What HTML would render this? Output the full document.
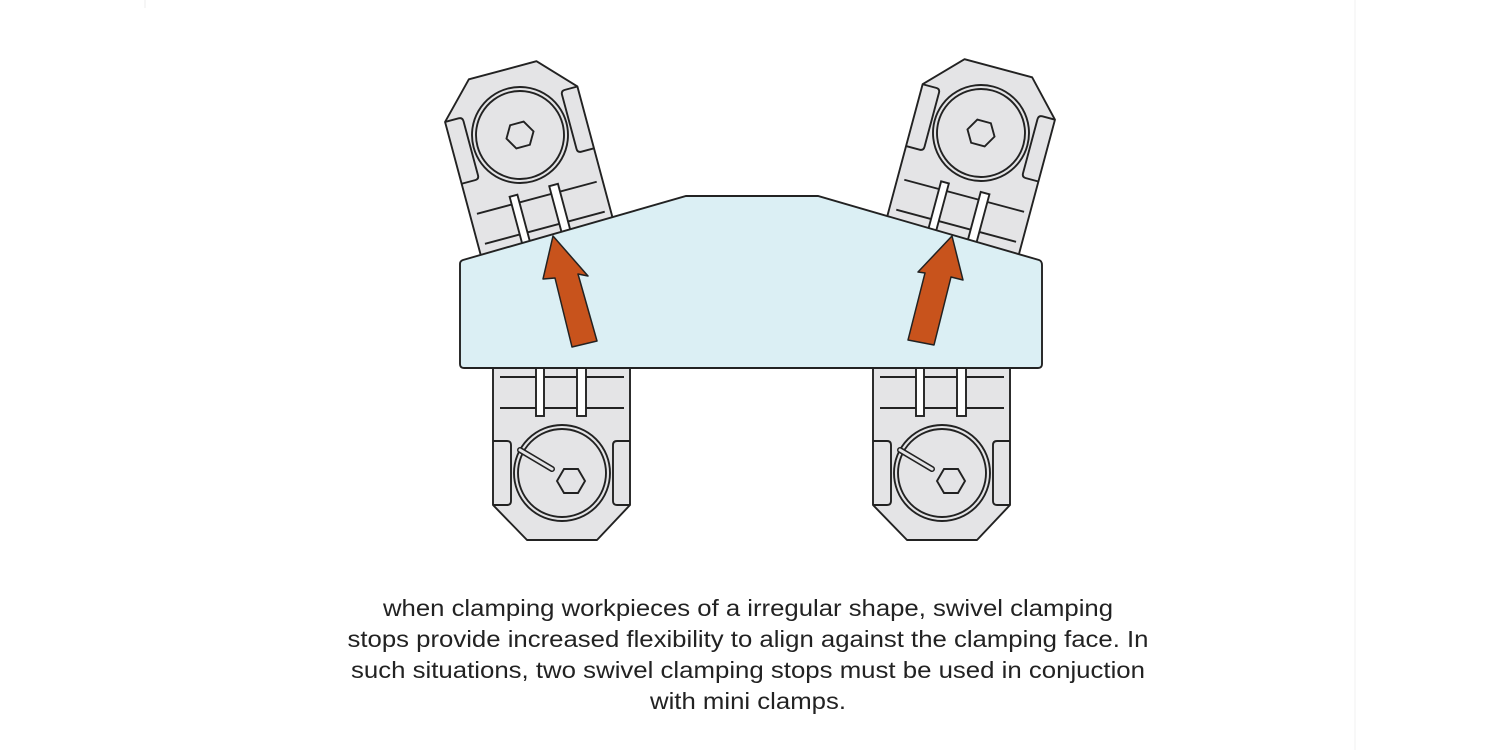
<!DOCTYPE html>
<html><head><meta charset="utf-8"><style>
html,body{margin:0;padding:0;background:#fff;width:1500px;height:750px;overflow:hidden}
svg{display:block}
</style></head><body>
<svg width="1500" height="750" viewBox="0 0 1500 750" xmlns="http://www.w3.org/2000/svg">
<defs>
<g id="clamp" stroke="#222" stroke-width="1.9">
<polygon points="-35,-67 35,-67 68,-32 68,125 -69,125 -69,-32" fill="#e4e4e6" stroke-linejoin="round"/>
<path d="M-69,-32 L-55,-32 Q-51,-32 -51,-28 L-51,28 Q-51,32 -55,32 L-69,32" fill="none"/>
<path d="M68,-32 L55,-32 Q51,-32 51,-28 L51,28 Q51,32 55,32 L68,32" fill="none"/>
<circle cx="0" cy="0" r="48" fill="#e4e4e6"/>
<circle cx="0" cy="0" r="44" fill="none"/>
<line x1="-62" y1="65" x2="62" y2="65"/>
<line x1="-62" y1="96" x2="62" y2="96"/>
<rect x="-26" y="57" width="8" height="70" fill="#fff"/>
<rect x="15" y="57" width="9" height="70" fill="#fff"/>
</g>
</defs>
<line x1="145" y1="0" x2="145" y2="8" stroke="#eee"/>
<line x1="1355" y1="0" x2="1355" y2="750" stroke="#f0f0f0"/>

<g transform="translate(520,135) rotate(-15)">
<use href="#clamp"/>
<polygon points="-14,0 -7,-12 7,-12 14,0 7,12 -7,12" fill="none" stroke="#222" stroke-width="1.9"/>
</g>
<g transform="translate(981,133) rotate(15)">
<use href="#clamp"/>
<polygon points="-14,0 -7,-12 7,-12 14,0 7,12 -7,12" fill="none" stroke="#222" stroke-width="1.9"/>
</g>

<g transform="translate(562,473) scale(1,-1)">
<use href="#clamp"/>
</g>
<g stroke="#222" stroke-width="1.9" fill="none">
<path d="M520,450 L552,469" stroke-width="6" stroke-linecap="round"/>
<path d="M520,450 L552,469" stroke="#e4e4e6" stroke-width="3" stroke-linecap="round"/>
<polygon points="557,481 564,469 578,469 585,481 578,493 564,493"/>
</g>
<g transform="translate(942,473) scale(1,-1)">
<use href="#clamp"/>
</g>
<g stroke="#222" stroke-width="1.9" fill="none">
<path d="M900,450 L932,469" stroke-width="6" stroke-linecap="round"/>
<path d="M900,450 L932,469" stroke="#e4e4e6" stroke-width="3" stroke-linecap="round"/>
<polygon points="937,481 944,469 958,469 965,481 958,493 944,493"/>
</g>

<path d="M463,260 L686,196 L818,196 L1039,260 Q1042,261 1042,265 L1042,364 Q1042,368 1038,368 L464,368 Q460,368 460,364 L460,264 Q460,261 463,260 Z" fill="#dbeff4" stroke="#222" stroke-width="1.9"/>

<polygon points="553,236 588,276 578,274 597,341 572,347 555,278 543,279" fill="#c8531c" stroke="#222" stroke-width="1.5" stroke-linejoin="round"/>
<polygon points="952,236 963,280 951,277 934,345 908,340 925,273 918,272" fill="#c8531c" stroke="#222" stroke-width="1.5" stroke-linejoin="round"/>

<g font-family="Liberation Sans, Arial, sans-serif" font-size="23" fill="#222" text-anchor="middle">
<text x="748" y="616" textLength="730" lengthAdjust="spacingAndGlyphs">when clamping workpieces of a irregular shape, swivel clamping</text>
<text x="748" y="647" textLength="801" lengthAdjust="spacingAndGlyphs">stops provide increased flexibility to align against the clamping face. In</text>
<text x="748" y="678" textLength="794" lengthAdjust="spacingAndGlyphs">such situations, two swivel clamping stops must be used in conjuction</text>
<text x="748" y="709" textLength="196" lengthAdjust="spacingAndGlyphs">with mini clamps.</text>
</g>
</svg>
</body></html>
